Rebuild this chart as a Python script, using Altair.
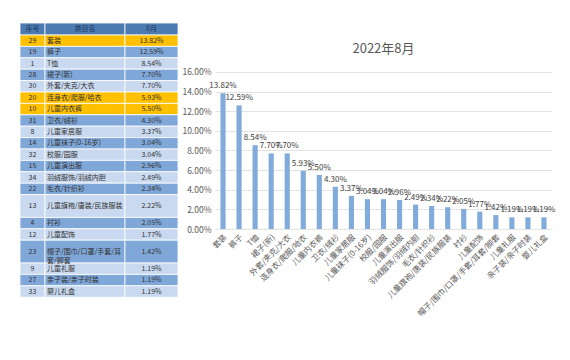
import altair as alt
import pandas as pd

# ---------------- data ----------------
ids = [29, 19, 1, 28, 30, 20, 10, 31, 8, 14, 32, 15, 34, 22, 13, 4, 12, 23, 9, 27, 33]
names = ["套装", "裤子", "T恤", "裙子(新)", "外套/夹克/大衣", "连身衣/爬服/哈衣", "儿童内衣裤",
         "卫衣/绒衫", "儿童家居服", "儿童袜子(0-16岁)", "校服/园服", "儿童演出服",
         "羽绒服饰/羽绒内胆", "毛衣/针织衫", "儿童旗袍/唐装/民族服装", "衬衫", "儿童配饰",
         "帽子/围巾/口罩/手套/耳套/脚套", "儿童礼服", "亲子装/亲子时装", "婴儿礼盒"]
values = [13.82, 12.59, 8.54, 7.70, 7.70, 5.93, 5.50, 4.30, 3.37, 3.04, 3.04, 2.96,
          2.49, 2.34, 2.22, 2.05, 1.77, 1.42, 1.19, 1.19, 1.19]
highlight_ids = [29, 20, 10]
headers = ["序号", "类目名", "8月"]
title_text = "2022年8月"
y_ticks = [0, 2, 4, 6, 8, 10, 12, 14, 16]

FONT = "Noto Sans CJK SC"

# ---------------- table layout ----------------
TW, TH = 168, 290
col_edges = [7, 32, 112, 165]
top = 10
header_h = 12.0
row_h = 11.4
max_w = 11.0


def text_w(s):
    return sum(1.0 if ord(c) > 255 else 0.5 for c in s)


def wrap(s):
    lines, cur = [], ""
    for c in s:
        if text_w(cur + c) > max_w:
            lines.append(cur)
            cur = c
        else:
            cur += c
    lines.append(cur)
    return "\n".join(lines)


HEAD = "#4b7bb0"
MID = "#7fa7d8"
LIGHT = "#c9d9ef"
ORANGE = "#ffc000"

cells, texts_c, texts_l = [], [], []
y0 = top
y1 = y0 + header_h
for j, h in enumerate(headers):
    cells.append(dict(x=col_edges[j], x2=col_edges[j + 1], y=y0, y2=y1, fill=HEAD))
    texts_c.append(dict(tx=(col_edges[j] + col_edges[j + 1]) / 2, ty=(y0 + y1) / 2, t=h, c="#1f3a63"))
y0 = y1
for i, (rid, nm, v) in enumerate(zip(ids, names, values)):
    wrapped = wrap(nm)
    h = row_h * (2 if text_w(nm) > 10 else 1)
    y1 = y0 + h
    if rid in highlight_ids:
        fill = ORANGE
    elif i % 2 == 1:
        fill = MID
    else:
        fill = LIGHT
    for j in range(3):
        cells.append(dict(x=col_edges[j], x2=col_edges[j + 1], y=y0, y2=y1, fill=fill))
    cy = (y0 + y1) / 2
    texts_c.append(dict(tx=(col_edges[0] + col_edges[1]) / 2, ty=cy, t=str(rid), c="#333333"))
    texts_c.append(dict(tx=(col_edges[2] + col_edges[3]) / 2, ty=cy, t=f"{v:.2f}%", c="#333333"))
    texts_l.append(dict(tx=col_edges[1] + 2, ty=cy, t=wrapped, c="#333333"))
    y0 = y1

xs = alt.Scale(domain=[0, TW], nice=False, zero=False)
ys = alt.Scale(domain=[0, TH], nice=False, zero=False, reverse=True)

rects = alt.Chart(pd.DataFrame(cells)).mark_rect(stroke="white", strokeWidth=0.8).encode(
    x=alt.X("x:Q", scale=xs, axis=None), x2="x2:Q",
    y=alt.Y("y:Q", scale=ys, axis=None), y2="y2:Q",
    fill=alt.Fill("fill:N", scale=None),
)
tc = alt.Chart(pd.DataFrame(texts_c)).mark_text(font=FONT, fontSize=7, align="center", baseline="middle").encode(
    x=alt.X("tx:Q", scale=xs, axis=None), y=alt.Y("ty:Q", scale=ys, axis=None),
    text="t:N", color=alt.Color("c:N", scale=None),
)
tl = alt.Chart(pd.DataFrame(texts_l)).mark_text(font=FONT, fontSize=7, align="left", baseline="middle",
                                                 lineBreak="\n", lineHeight=9).encode(
    x=alt.X("tx:Q", scale=xs, axis=None), y=alt.Y("ty:Q", scale=ys, axis=None),
    text="t:N", color=alt.Color("c:N", scale=None),
)
table = alt.layer(rects, tc, tl).properties(width=TW, height=TH)

# ---------------- bar chart ----------------
bdf = pd.DataFrame({"name": names, "value": values})
base = alt.Chart(bdf).transform_calculate(
    label="format(datum.value, '.2f') + '%'"
).encode(
    x=alt.X("name:N", sort=None, title=None,
            scale=alt.Scale(paddingInner=0.68, paddingOuter=0.34),
            axis=alt.Axis(labelAngle=-45, labelFont=FONT, labelFontSize=8, labelColor="#595959",
                          ticks=False, domain=False, labelPadding=4, labelLimit=200)),
    y=alt.Y("value:Q", title=None,
            scale=alt.Scale(domain=[0, 22], nice=False),
            axis=alt.Axis(values=y_ticks, labelExpr="format(datum.value, '.2f') + '%'",
                          labelFont=FONT, labelFontSize=8.5, labelColor="#595959",
                          ticks=False, domain=False, gridColor="#e3e3e3", labelPadding=4)),
)
bars = base.mark_bar(color="#82abdb")
labels = base.mark_text(font=FONT, fontSize=8, color="#404040", dy=-7).encode(text="label:N")

barchart = alt.layer(bars, labels).properties(
    width=337, height=216,
    title=alt.TitleParams(title_text, font=FONT, fontSize=13, fontWeight="normal", color="#595959",
                          anchor="middle", offset=-43),
)

chart = alt.hconcat(table, barchart, spacing=0).configure_view(stroke=None).properties(
    background="white"
)

chart.save("out.html", embed_options={"renderer": "svg", "actions": False})
